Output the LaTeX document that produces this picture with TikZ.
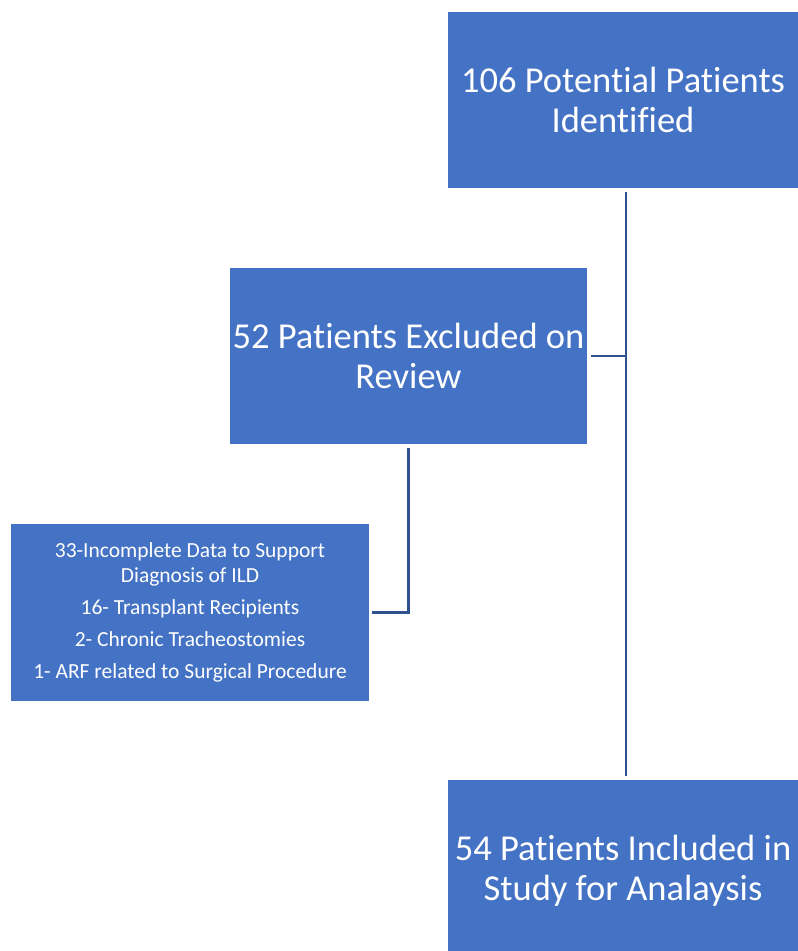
\documentclass[tikz,border=0pt]{standalone}
\usepackage{fontspec}
\setmainfont[Ligatures={NoCommon}]{Carlito}
\usepackage{xcolor}
\usepackage{tikz}
\definecolor{boxblue}{HTML}{4472C4}
\definecolor{lineblue}{HTML}{2F528F}
\definecolor{text}{HTML}{FFFFFF}
\tikzset{
  bigbox/.style={fill=boxblue, text=text, align=center, inner sep=0pt,
    font=\fontsize{36.5}{40}\selectfont},
  listbox/.style={fill=boxblue, text=text, align=center, inner sep=0pt,
    font=\fontsize{21.5}{25}\selectfont},
  link/.style={draw=lineblue, line width=2.6pt}
}

\begin{document}
\begin{tikzpicture}[x=1pt, y=-1pt]
  \useasboundingbox (0,0) rectangle (798,951);

  \node[bigbox, minimum width=350pt, minimum height=176pt] (potential) at (623,100)
    {106 Potential Patients\\Identified};
  \node[bigbox, minimum width=357pt, minimum height=176pt] (excluded) at (408.5,356)
    {52 Patients Excluded on\\Review};
  \node[listbox, minimum width=358pt, minimum height=177pt] (reasons) at (190,612.5)
    {33-Incomplete Data to Support\\Diagnosis of ILD\\[7pt]
     16- Transplant Recipients\\[7pt]
     2- Chronic Tracheostomies\\[7pt]
     1- ARF related to Surgical Procedure};
  % runs past the lower edge of the page
  \node[bigbox, minimum width=350pt, minimum height=181pt] (included) at (623,870.5)
    {54 Patients Included in\\Study for Analaysis};

  % spine on the right
  \coordinate (spine) at (626,0);
  \coordinate (top) at ([yshift=-4pt]potential.south -| spine);
  \coordinate (bot) at ([yshift=4pt]included.north -| spine);
  \draw[link] (top) -- (bot);
  \draw[link] ([xshift=4pt]excluded.east) -- (excluded.east -| spine);

  \draw[link] ([yshift=-4pt]excluded.south) |- ([xshift=3pt]reasons.east);
\end{tikzpicture}
\end{document}
